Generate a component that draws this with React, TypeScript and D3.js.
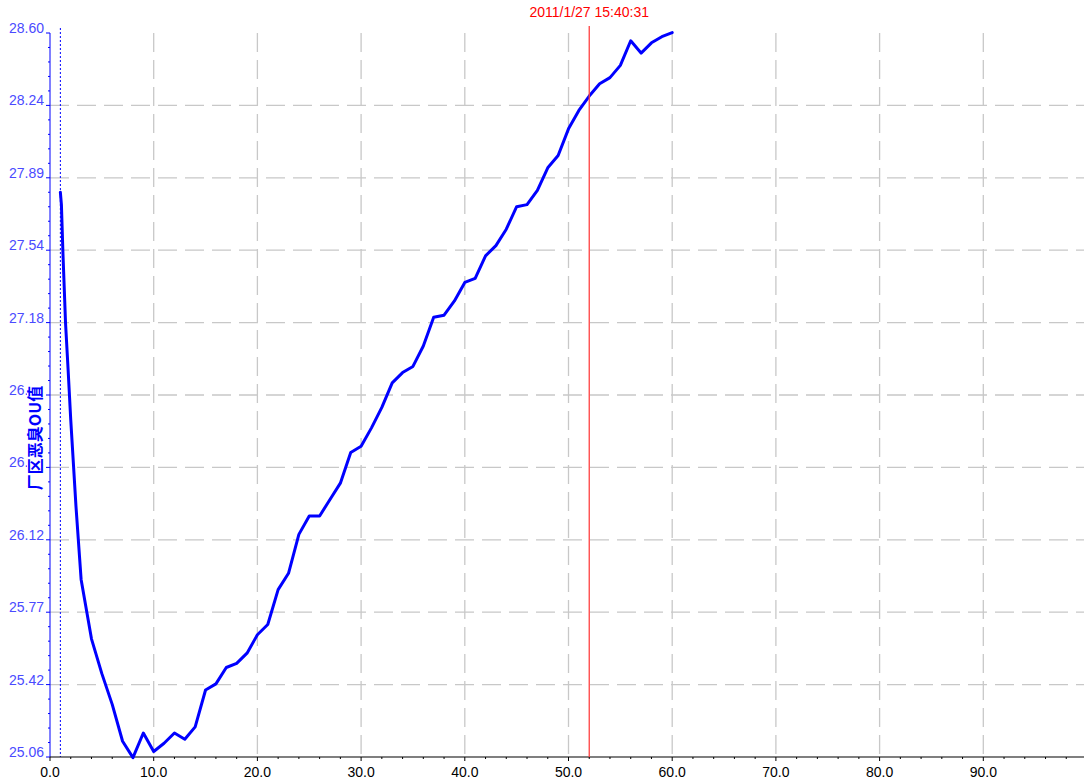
import React from "react";
import * as d3 from "d3";

// ---- data ----
const xValues: number[] = [
  1, 1.1, 1.25, 1.5, 1.75, 2, 2.5, 3, 4, 5, 6, 7, 8, 9, 10, 11, 12, 13, 14, 15, 16, 17, 18, 19, 20,
  21, 22, 23, 24, 25, 26, 27, 28, 29, 30, 31, 32, 33, 34, 35, 36, 37, 38, 39, 40,
  41, 42, 43, 44, 45, 46, 47, 48, 49, 50, 51, 52, 53, 54, 55, 56, 57, 58, 59, 60,
];
const yValues: number[] = [
  27.82, 27.76, 27.52, 27.18, 26.95, 26.71, 26.29, 25.93, 25.64, 25.47, 25.32, 25.14, 25.06, 25.18, 25.09, 25.13, 25.18, 25.15, 25.21, 25.39, 25.42, 25.5, 25.52, 25.57, 25.66,
  25.71, 25.88, 25.96, 26.15, 26.24, 26.24, 26.32, 26.4, 26.55, 26.58, 26.67, 26.77, 26.89, 26.94, 26.97, 27.07, 27.21, 27.22, 27.29, 27.38,
  27.4, 27.51, 27.56, 27.64, 27.75, 27.76, 27.83, 27.94, 28.0, 28.13, 28.22, 28.29, 28.35, 28.38, 28.44, 28.56, 28.5, 28.55, 28.58, 28.6,
];
const yTickLabels: string[] = ["25.06", "25.42", "25.77", "26.12", "26.48", "26.83", "27.18", "27.54", "27.89", "28.24", "28.60"];
const xTickLabels: string[] = ["0.0", "10.0", "20.0", "30.0", "40.0", "50.0", "60.0", "70.0", "80.0", "90.0"];
const xTickValues: number[] = [0, 10, 20, 30, 40, 50, 60, 70, 80, 90];
const yMin = 25.063;
const yMax = 28.598;
const xMin = 0;
const xMax = 100;
const cursorX = 52;
const cursorLabel = "2011/1/27 15:40:31";
const startMarkerX = 1;
const axisTitle = "厂区恶臭OU值";

export default function App() {
  const W = 1084;
  const H = 784;
  const left = 50;
  const top = 33;
  const bottom = 757;
  const x = d3.scaleLinear().domain([xMin, xMax]).range([left, left + 1037]);
  const y = d3.scaleLinear().domain([yMin, yMax]).range([bottom, top]);
  const yTicks = d3.range(yTickLabels.length).map((i) => yMin + ((yMax - yMin) * i) / (yTickLabels.length - 1));
  const yMinor: number[] = [];
  for (let i = 0; i < yTicks.length - 1; i++) {
    for (let k = 1; k < 5; k++) yMinor.push(yTicks[i] + ((yTicks[i + 1] - yTicks[i]) * k) / 5);
  }
  const xMinor = d3.range(0, 100, 2).filter((v) => v % 10 !== 0);
  const pts: [number, number][] = xValues.map((v, i) => [v, yValues[i]]);
  const line = d3
    .line<[number, number]>()
    .x((d) => x(d[0]))
    .y((d) => y(d[1]));
  const font = "'Liberation Sans', Arial, sans-serif";
  const grid = "#c8c8c8";
  const dash = "19,8";
  return (
    <svg
      width={W}
      height={H}
      style={{ position: "absolute", left: 0, top: 0, background: "#fff" }}
      fontFamily={font}
    >
      <rect x={0} y={0} width={W} height={H} fill="#fff" />
      {/* grid */}
      {xTickValues.slice(1).map((v) => (
        <line key={"gx" + v} x1={x(v)} x2={x(v)} y1={top} y2={bottom} stroke={grid} strokeWidth={1.3} strokeDasharray={dash} />
      ))}
      {yTicks.slice(1, -1).map((v, i) => (
        <line key={"gy" + i} x1={left} x2={W} y1={y(v)} y2={y(v)} stroke={grid} strokeWidth={1.3} strokeDasharray={dash} />
      ))}
      {/* start marker */}
      <line x1={x(startMarkerX)} x2={x(startMarkerX)} y1={28} y2={bottom} stroke="#0000ff" strokeWidth={1} strokeDasharray="2,2" />
      {/* y axis */}
      <line x1={left} x2={left} y1={top} y2={bottom} stroke="#0000ff" strokeWidth={1} />
      {yTicks.map((v, i) => (
        <g key={"yt" + i}>
          <line x1={left - 4} x2={left} y1={y(v)} y2={y(v)} stroke="#0000ff" />
          <text x={left - 6} y={y(v)} textAnchor="end" fontSize={14} fill="#4a4aff">
            {yTickLabels[i]}
          </text>
        </g>
      ))}
      {yMinor.map((v, i) => (
        <line key={"ym" + i} x1={left - 2} x2={left} y1={y(v)} y2={y(v)} stroke="#0000ff" />
      ))}
      {/* y title */}
      <rect x={27} y={383} width={17} height={110} fill="#fff" />
      <text
        transform={`translate(41,438) rotate(-90)`}
        textAnchor="middle"
        fontSize={16}
        fontWeight="bold"
        fill="#0000ff"
        fontFamily="'Noto Sans CJK SC', sans-serif"
      >
        {axisTitle}
      </text>
      {/* x axis */}
      <line x1={left} x2={W} y1={bottom} y2={bottom} stroke="#000" strokeWidth={1.2} />
      {xTickValues.map((v, i) => (
        <g key={"xt" + v}>
          <line x1={x(v)} x2={x(v)} y1={bottom} y2={bottom + 4} stroke="#000" />
          <text x={x(v)} y={bottom + 20} textAnchor="middle" fontSize={14} fill="#000">
            {xTickLabels[i]}
          </text>
        </g>
      ))}
      {xMinor.map((v) => (
        <line key={"xm" + v} x1={x(v)} x2={x(v)} y1={bottom} y2={bottom + 2} stroke="#000" />
      ))}
      {/* data */}
      <path d={line(pts) || ""} fill="none" stroke="#0000ff" strokeWidth={3} strokeLinejoin="round" strokeLinecap="round" />
      {/* cursor */}
      <line x1={x(cursorX)} x2={x(cursorX)} y1={26} y2={bottom} stroke="#ff4040" strokeWidth={1.3} />
      <text x={x(cursorX)} y={17} textAnchor="middle" fontSize={14} fill="#ff0000">
        {cursorLabel}
      </text>
    </svg>
  );
}
